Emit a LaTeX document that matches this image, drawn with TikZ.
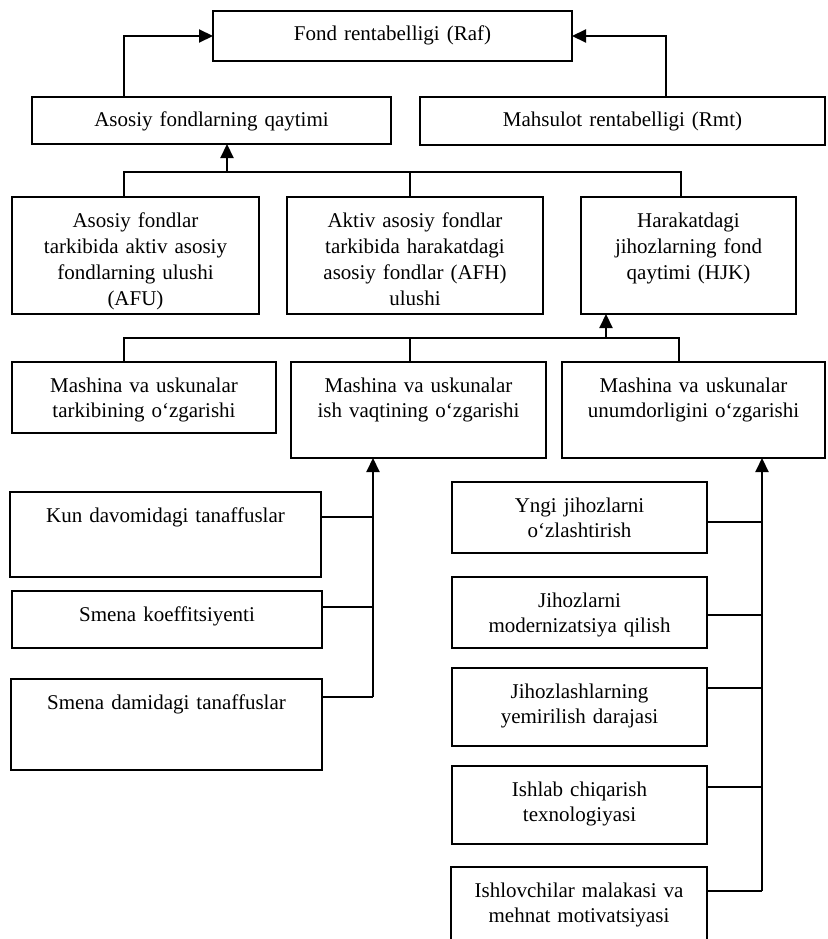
\documentclass[tikz,border=0pt]{standalone}
\usepackage{fontspec}
\setmainfont{Liberation Serif}
\usetikzlibrary{arrows.meta,calc}
\tikzset{
  boxst/.style={draw, line width=2.2pt, inner sep=0pt, outer sep=0pt},
  txt/.style={inner sep=0pt, outer sep=0pt, align=center, font=\fontsize{21}{25}\selectfont},
  ln/.style={line width=2.1pt},
  arr/.style={line width=2.1pt, -{Triangle[length=14pt,width=13pt]}},
}
\newcommand\dbox[7][]{%
  \pgfmathsetmacro\dbw{#5-#3}%
  \pgfmathsetmacro\dbh{#6-#4}%
  \pgfmathsetmacro\dtw{#5-#3-6}%
  \node[boxst, minimum width=\dbw pt, minimum height=\dbh pt, anchor=north west] (#2) at (#3,#4) {};%
  \node[txt, text width=\dtw pt, anchor=base, #1] (#2-t) at ([yshift=-30pt]#2.north) {#7};%
}
\begin{document}
\begin{tikzpicture}[x=1pt,y=-1pt]
\useasboundingbox (0,0) rectangle (827,939);
\clip (0,0) rectangle (827,939);
% boxes
\dbox{top}{213}{11}{572}{61}{Fond rentabelligi (Raf)}
\dbox{r2a}{32}{97}{391}{144}{Asosiy fondlarning qaytimi}
\dbox{r2b}{420}{97}{825}{145}{Mahsulot rentabelligi (Rmt)}
\dbox[font=\fontsize{21}{26}\selectfont]{r3a}{12}{197}{259}{314}{Asosiy fondlar\\ tarkibida aktiv asosiy\\ fondlarning ulushi\\ (AFU)}
\dbox[font=\fontsize{21}{26}\selectfont]{r3b}{287}{197}{543}{314}{Aktiv asosiy fondlar\\ tarkibida harakatdagi\\ asosiy fondlar (AFH)\\ ulushi}
\dbox[font=\fontsize{21}{26}\selectfont]{r3c}{581}{197}{796}{314}{Harakatdagi\\ jihozlarning fond\\ qaytimi (HJK)}
\dbox{r4a}{12}{362}{276}{433}{Mashina va uskunalar\\ tarkibining o‘zgarishi}
\dbox{r4b}{291}{362}{546}{458}{Mashina va uskunalar\\ ish vaqtining o‘zgarishi}
\dbox{r4c}{562}{362}{825}{458}{Mashina va uskunalar\\ unumdorligini o‘zgarishi}
\dbox{lb1}{10}{492}{321}{577}{Kun davomidagi tanaffuslar}
\dbox{lb2}{12}{591}{322}{648}{Smena koeffitsiyenti}
\dbox{lb3}{11}{679}{322}{770}{Smena damidagi tanaffuslar}
\dbox{rb1}{452}{482}{707}{553}{Yngi jihozlarni\\ o‘zlashtirish}
\dbox{rb2}{452}{577}{707}{648}{Jihozlarni\\ modernizatsiya qilish}
\dbox{rb3}{452}{668}{707}{746}{Jihozlashlarning\\ yemirilish darajasi}
\dbox{rb4}{452}{766}{707}{844}{Ishlab chiqarish\\ texnologiyasi}
\dbox{rb5}{451}{867}{707}{950}{Ishlovchilar malakasi va\\ mehnat motivatsiyasi}
% junction coordinates
\coordinate (tr) at (666,36);
\coordinate (b1L) at (124,172);
\coordinate (b1M) at (410,172);
\coordinate (b1R) at (681,172);
\coordinate (b1A) at (227,172);
\coordinate (b2L) at (124,338);
\coordinate (b2M) at (410,338);
\coordinate (b2R) at (679,338);
\coordinate (b2A) at (606,338);
\coordinate (lc1) at (373,517);
\coordinate (lc2) at (373,607);
\coordinate (lc3) at (373,697);
\coordinate (rc1) at (762,522);
\coordinate (rc2) at (762,615);
\coordinate (rc3) at (762,688);
\coordinate (rc4) at (762,787);
\coordinate (rc5) at (762,891);
% top arrows
\draw[arr] (b1L |- r2a.north) |- (top.west);
\draw[arr] (tr |- r2b.north) |- (top.east);
% bus 1
\draw[ln] (b1L |- r3a.north) -- (b1L) -- (b1R) -- (b1R |- r3c.north);
\draw[ln] (b1M) -- (b1M |- r3b.north);
\draw[arr] (b1A) -- (b1A |- r2a.south);
% bus 2
\draw[ln] (b2L |- r4a.north) -- (b2L) -- (b2R) -- (b2R |- r4c.north);
\draw[ln] (b2M) -- (b2M |- r4b.north);
\draw[arr] (b2A) -- (b2A |- r3c.south);
% left spine
\draw[arr] (lc3) -- (lc3 |- r4b.south);
\draw[ln] (lb1.east |- lc1) -- (lc1);
\draw[ln] (lb2.east |- lc2) -- (lc2);
\draw[ln] (lb3.east |- lc3) -- (lc3);
% right spine
\draw[arr] (rc5) -- (rc5 |- r4c.south);
\draw[ln] (rb1.east |- rc1) -- (rc1);
\draw[ln] (rb2.east |- rc2) -- (rc2);
\draw[ln] (rb3.east |- rc3) -- (rc3);
\draw[ln] (rb4.east |- rc4) -- (rc4);
\draw[ln] (rb5.east |- rc5) -- (rc5);
\end{tikzpicture}
\end{document}
